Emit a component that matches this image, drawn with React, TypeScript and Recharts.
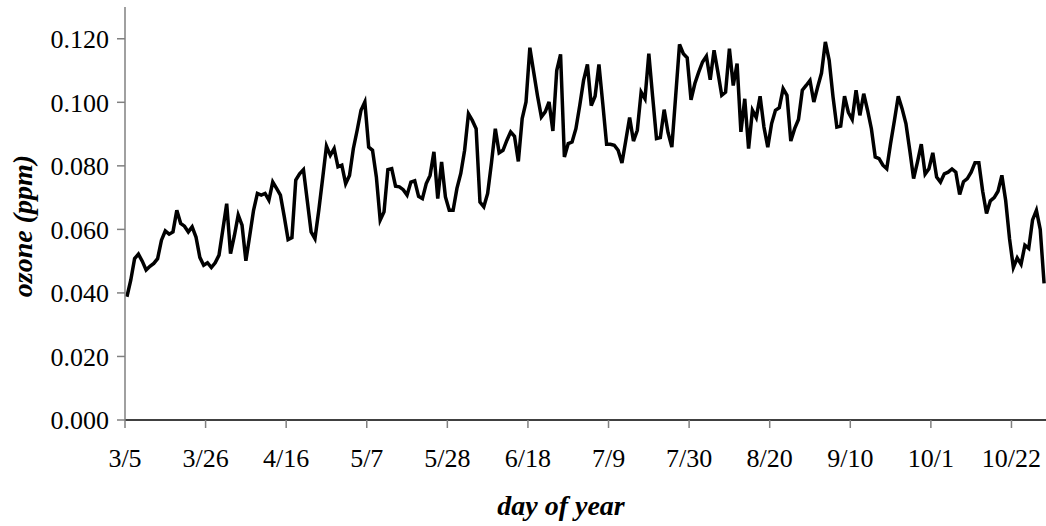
import { LineChart, Line, XAxis, YAxis, Label } from "recharts";

// daily max ozone (ppm), one value per day starting 3/5
const ozone = [
  0.0388, 0.044, 0.0508, 0.0522, 0.05, 0.0472, 0.0484, 0.0493, 0.0508, 0.0566,
  0.0595, 0.0585, 0.0592, 0.066, 0.0619, 0.061, 0.0592, 0.0608, 0.0576, 0.0512,
  0.0487, 0.0495, 0.048, 0.0495, 0.0519, 0.06, 0.0681, 0.0524, 0.058, 0.0645,
  0.0613, 0.0501, 0.058, 0.066, 0.0713, 0.0708, 0.0713, 0.0692, 0.0749, 0.0729,
  0.0708, 0.064, 0.0568, 0.0574, 0.0755, 0.0775, 0.0788, 0.069, 0.0592, 0.0571,
  0.066, 0.076, 0.0862, 0.0833, 0.0854, 0.0797, 0.0802, 0.0744, 0.077, 0.0854,
  0.0912, 0.0975, 0.1001, 0.0859, 0.0849, 0.0765, 0.0629, 0.0655, 0.0788, 0.0791,
  0.0736, 0.0734, 0.0725, 0.0708, 0.0749, 0.0753, 0.0704, 0.0697, 0.0744, 0.077,
  0.0844, 0.0697, 0.0812, 0.0702, 0.066, 0.066, 0.0729, 0.0776, 0.0849, 0.0964,
  0.0943, 0.0917, 0.0686, 0.0671, 0.0713, 0.081, 0.0917, 0.0841, 0.0849, 0.088,
  0.0907, 0.0893, 0.0814, 0.0949, 0.1001, 0.1172, 0.1095, 0.102, 0.0954, 0.097,
  0.1001, 0.091, 0.11, 0.1151, 0.0828, 0.087, 0.0875, 0.0917, 0.099, 0.1069,
  0.1119, 0.099, 0.1019, 0.1119, 0.0996, 0.0868, 0.0868, 0.0865, 0.0849, 0.0809,
  0.088, 0.0952, 0.0878, 0.0912, 0.1032, 0.1011, 0.1153, 0.1017, 0.0886, 0.0889,
  0.0977, 0.0905, 0.0859, 0.102, 0.1182, 0.1153, 0.114, 0.1008, 0.1059, 0.1095,
  0.1127, 0.1145, 0.1071, 0.1164, 0.1095, 0.1022, 0.1032, 0.1169, 0.1053, 0.1122,
  0.0907, 0.1011, 0.0854, 0.0975, 0.0952, 0.1019, 0.0922, 0.0859, 0.0933, 0.0975,
  0.0983, 0.1043, 0.1022, 0.0878, 0.0917, 0.0946, 0.1038, 0.1053, 0.1069, 0.1001,
  0.1048, 0.1092, 0.119, 0.1132, 0.1017, 0.0922, 0.0925, 0.1019, 0.0968, 0.0946,
  0.1038, 0.0959, 0.1027, 0.0975, 0.0917, 0.0828, 0.0823, 0.0802, 0.0791, 0.087,
  0.0943, 0.1019, 0.098, 0.0933, 0.0849, 0.076, 0.0812, 0.0868, 0.0774, 0.0791,
  0.0841, 0.0765, 0.0749, 0.0775, 0.078, 0.079, 0.078, 0.071, 0.075, 0.076,
  0.078, 0.081, 0.081, 0.072, 0.065, 0.069, 0.07, 0.072, 0.077, 0.069,
  0.057, 0.048, 0.051, 0.049, 0.055, 0.054, 0.063, 0.066, 0.06, 0.043,
];

const xTickLabels = ["3/5", "3/26", "4/16", "5/7", "5/28", "6/18", "7/9", "7/30", "8/20", "9/10", "10/1", "10/22"];
const xTicks = xTickLabels.map((_, i) => i * 21);
const yTicks = [0, 0.02, 0.04, 0.06, 0.08, 0.1, 0.12];

const data = ozone.map((v, i) => ({ day: i + 0.5, ozone: v }));

const FONT = "'Liberation Serif', 'Times New Roman', serif";
const tickStyle = { fontSize: 26, fill: "#000", fontFamily: FONT };

export default function App() {
  return (
    <div style={{ position: "absolute", left: 0, top: 0, width: 1046, height: 526, overflow: "hidden", background: "#fff" }}>
      <LineChart width={1046} height={526} data={data} margin={{ top: 7, right: 0, bottom: 0, left: 0 }}>
        <XAxis
          dataKey="day"
          type="number"
          domain={[0, 240]}
          ticks={xTicks}
          tickFormatter={(v: number) => xTickLabels[Math.round(v / 21)]}
          interval={0}
          height={106}
          tick={tickStyle}
          tickSize={8}
          tickMargin={21}
          axisLine={{ stroke: "#000", strokeWidth: 1.5 }}
          tickLine={{ stroke: "#808080", strokeWidth: 1.5 }}
          allowDataOverflow
        >
          <Label
            content={() => (
              <text
                x={561}
                y={515}
                textAnchor="middle"
                fontFamily={FONT}
                fontSize={28}
                fontWeight="bold"
                fontStyle="italic"
                fill="#000"
              >
                day of year
              </text>
            )}
          />
        </XAxis>
        <YAxis
          type="number"
          domain={[0, 0.13]}
          ticks={yTicks}
          tickFormatter={(v: number) => v.toFixed(3)}
          width={125}
          tick={tickStyle}
          tickSize={8}
          tickMargin={8}
          axisLine={{ stroke: "#808080", strokeWidth: 1.5 }}
          tickLine={{ stroke: "#808080", strokeWidth: 1.5 }}
          allowDataOverflow
        >
          <Label
            content={() => (
              <text
                transform="translate(32 226) rotate(-90)"
                textAnchor="middle"
                fontFamily={FONT}
                fontSize={28}
                fontWeight="bold"
                fontStyle="italic"
                fill="#000"
              >
                ozone (ppm)
              </text>
            )}
          />
        </YAxis>
        <Line
          type="linear"
          dataKey="ozone"
          stroke="#000"
          strokeWidth={3.5}
          dot={false}
          isAnimationActive={false}
        />
      </LineChart>
    </div>
  );
}
